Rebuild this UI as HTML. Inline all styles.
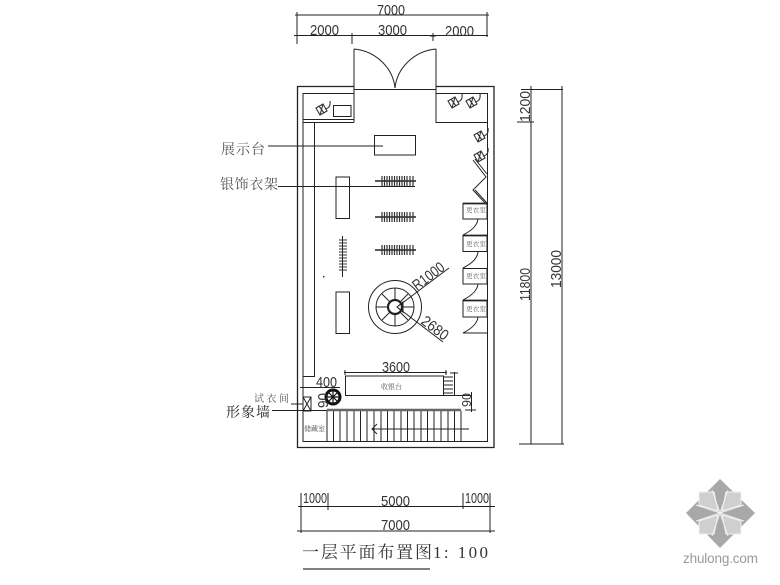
<!DOCTYPE html>
<html><head><meta charset="utf-8">
<style>
html,body{margin:0;padding:0;background:#fff}
svg{display:block}
text{font-family:"Liberation Sans","Noto Sans CJK SC",sans-serif;fill:#333}
.n{font-family:"Liberation Sans",sans-serif;font-size:15px;fill:#333}
.c{font-family:"Noto Serif CJK SC","Liberation Serif",serif;fill:#555}
</style></head><body>
<svg width="780" height="585" viewBox="0 0 780 585" xmlns="http://www.w3.org/2000/svg">
<defs>
<g id="chair" fill="none" stroke="#333" stroke-width="1.1">
<path d="M-6,-2 L1,-6 L5,1 L-2,5 Z M-3,-4 L2,3 M1,-6 L-2,5"/>
<path d="M3,-1 Q9,-2 8,-9"/>
</g>
<g id="rack">
<path d="M0,0 H41" stroke="#222" stroke-width="1.4"/>
<path d="M7,-5 V5 M9.500,-5 V5 M12,-5 V5 M14.500,-5 V5 M17,-5 V5 M19.500,-5 V5 M22,-5 V5 M24.500,-5 V5 M27,-5 V5 M29.500,-5 V5 M32,-5 V5 M35,-5 V5 M38,-5 V5" stroke="#333" stroke-width="1.200"/>
</g>
</defs>
<rect width="780" height="585" fill="#fff"/>
<g fill="none" stroke="#222" stroke-width="1">
<!-- top dims -->
<path d="M295,15 H489 M297,12 V44 M487,12 V37 M294,35.500 H488 M352,33 V44 M433,33 V41 M430,36 H436"/>
<!-- door -->
<path d="M354,49 V89 M436,49 V89 M354,89.500 H436"/>
<path d="M354,49 C376,51 393,68 395,88 M436,49 C414,51 397,68 395,88"/>
<!-- walls -->
<path d="M354,86.500 H297.500 V447.500 H494 V86.500 H436" stroke-width="1.300"/>
<path d="M354,93.500 H303 V441.500 H487.500 V93.500 H436"/>
<path d="M354,89 V122.500 M436,89 V122.500 H487.500"/>
<path d="M303,119.500 H354 M303,122.500 H354"/>
<path d="M314.500,122 V376.500 H303"/>
<rect x="333.500" y="105.500" width="17.500" height="11"/>
<rect x="374.500" y="135.500" width="41" height="19.500"/>
<path d="M268,146 H383 M278,186.500 H415"/>
<rect x="336" y="177" width="13.500" height="41.500"/>
<rect x="336" y="292" width="13.500" height="41.500"/>
<!-- fitting rooms -->
<rect x="463" y="203.500" width="24" height="15.500"/>
<rect x="463" y="235.500" width="24" height="16"/>
<rect x="463" y="268.500" width="24" height="15.500"/>
<rect x="463" y="300.500" width="24" height="16.500"/>
<path d="M463,203.500 H487 M463,235.500 H487 M463,300.500 H487" stroke-width="1.800"/>
<path d="M478,219 Q477,228 463,235 M478,252 Q477,261 463,268 M478,284 Q477,293 463,300 M478,317 Q477,326 463,333 H487"/>
<!-- zigzag -->
<path d="M473,160 L486,177 L473,190 L486,204 M475,159 L487,174 M475,190 L487,203"/>
<!-- round display -->
<circle cx="395" cy="307" r="26.500"/>
<circle cx="395" cy="307" r="19"/>
<circle cx="395" cy="307" r="7" stroke-width="2.200"/>
<path d="M395,288 V300 M395,314 V326 M376,307 H388 M402,307 H414 M382,294 L390,302 M400,312 L408,320 M408,294 L400,302 M382,320 L390,312"/>
<path d="M397,307 L449,268 M397,307 L443,342 M397,307 L403,302 L403,312 Z"/>
<!-- counter -->
<rect x="345.500" y="376" width="98" height="19.500"/>
<path d="M344,372.500 H447 M345,370 V375 M446,370 V375"/>
<path d="M443,377 H453 M443,381 H453 M443,385 H453 M443,389 H453 M443,393 H453 M454.500,372 V395 M450,373 H458 M443,395.500 H472 M471.500,392 V412 M465,410 H476"/>
<path d="M300,387.500 H340 M303,397 H311 V411 H303 Z M303,397 L311,411 M311,397 L303,411 M291,404 H303 M272,410.500 H327"/>
<!-- stairs -->
<path d="M327,410 V441 M333.500,411 V441 M340,411 V441 M347,411 V441 M354,411 V441 M360.500,411 V441 M367,411 V441 M374,411 V441 M381,411 V441 M387.500,411 V441 M394,411 V441 M401,411 V441 M407.500,411 V441 M414,411 V441 M421,411 V441 M427.500,411 V441 M434,411 V441 M441,411 V441 M448,411 V441 M454.500,411 V441 M461,411 V441"/>
<path d="M372,429 H469 M377,424 L372,429 L377,434"/>
<!-- right dims -->
<path d="M531,86 V444 M562,86 V444 M521,89.500 H563 M519,444 H564 M517,122 H534"/>
<!-- bottom dims -->
<path d="M298,506.500 H495 M297,531 H495 M301,493 V533 M328,493 V510 M463,493 V509 M490,493 V533"/>
<path d="M303,569 H430" stroke="#333" stroke-width="1.300"/>
</g>
<path d="M327,410 H461" stroke="#666" stroke-width="2.500"/>
<circle cx="333" cy="397" r="7" fill="#fff" stroke="#111" stroke-width="3"/>
<path d="M333,390 V404 M326,397 H340 M328,392 L338,402 M338,392 L328,402" stroke="#111" stroke-width="1.200"/>
<path d="M342.500,236 V277" stroke="#222"/>
<path d="M339,240 H347 M339,243 H347 M339,246 H347 M339,249 H347 M339,252 H347 M339,255 H347 M339,258 H347 M339,261 H347 M339,264 H347 M339,267 H347 M339,270 H347" stroke="#333" stroke-width="1.100"/>
<rect x="323" y="276" width="1.500" height="1.500" fill="#444"/>
<use href="#rack" x="375" y="181"/>
<use href="#rack" x="375" y="217"/>
<use href="#rack" x="375" y="250"/>
<use href="#chair" x="322" y="110"/>
<use href="#chair" x="454" y="103"/>
<use href="#chair" x="472" y="103"/>
<use href="#chair" x="480" y="137"/>
<use href="#chair" x="480" y="157"/>
<!-- text -->
<text class="n" x="377" y="15" textLength="28" lengthAdjust="spacingAndGlyphs">7000</text>
<text class="n" x="310" y="35" textLength="29" lengthAdjust="spacingAndGlyphs">2000</text>
<text class="n" x="378" y="35" textLength="29" lengthAdjust="spacingAndGlyphs">3000</text>
<text class="n" x="445" y="36" textLength="29" lengthAdjust="spacingAndGlyphs">2000</text>
<text class="n" x="382" y="372" textLength="28" lengthAdjust="spacingAndGlyphs">3600</text>
<text class="n" x="316" y="387" textLength="21" lengthAdjust="spacingAndGlyphs">400</text>
<text class="n" x="303" y="503" textLength="24" lengthAdjust="spacingAndGlyphs">1000</text>
<text class="n" x="381" y="506" textLength="29" lengthAdjust="spacingAndGlyphs">5000</text>
<text class="n" x="465" y="503" textLength="24" lengthAdjust="spacingAndGlyphs">1000</text>
<text class="n" x="381" y="530" textLength="29" lengthAdjust="spacingAndGlyphs">7000</text>
<text class="n" transform="translate(530,122) rotate(-90)" textLength="31" lengthAdjust="spacingAndGlyphs">1200</text>
<text class="n" transform="translate(530,301) rotate(-90)" textLength="33" lengthAdjust="spacingAndGlyphs">11800</text>
<text class="n" transform="translate(561,288) rotate(-90)" textLength="38" lengthAdjust="spacingAndGlyphs">13000</text>
<text class="n" transform="translate(417,291) rotate(-37)" textLength="36" lengthAdjust="spacingAndGlyphs">R1000</text>
<text class="n" transform="translate(420,323) rotate(37)" textLength="30" lengthAdjust="spacingAndGlyphs">2680</text>
<text class="n" transform="translate(328,408) rotate(-90)" textLength="15" lengthAdjust="spacingAndGlyphs">90</text>
<text class="n" transform="translate(471,407) rotate(-90)" textLength="14" lengthAdjust="spacingAndGlyphs" style="font-size:13px">90</text>
<text class="c" x="221" y="154" font-size="14" textLength="44">展示台</text>
<text class="c" x="220" y="189" font-size="14" textLength="58">银饰衣架</text>
<text class="c" x="254" y="402" font-size="10" textLength="35">试衣间</text>
<text class="c" x="226" y="417" font-size="14" textLength="44" style="fill:#222">形象墙</text>
<text class="c" x="381" y="389" font-size="7" textLength="21">收银台</text>
<text class="c" x="304" y="431" font-size="7" textLength="21">储藏室</text>
<text class="c" x="466" y="212" font-size="6.500" textLength="20">更衣室</text>
<text class="c" x="466" y="246" font-size="6.500" textLength="20">更衣室</text>
<text class="c" x="466" y="278" font-size="6.500" textLength="20">更衣室</text>
<text class="c" x="466" y="311" font-size="6.500" textLength="20">更衣室</text>
<text class="c" x="302" y="558" font-size="17" textLength="130" style="fill:#333">一层平面布置图</text>
<text x="433" y="558" font-size="17" textLength="55" style="font-family:'Liberation Serif',serif;fill:#333">1: 100</text>
<!-- watermark -->
<g>
<path d="M720,479 L755,513 L720,548 L686,513 Z" fill="#a8a8a8"/>
<path d="M699,492 H714 L718,511 L699,505 Z M741,492 H726 L722,511 L741,505 Z M699,534 H714 L718,515 L699,521 Z M741,534 H726 L722,515 L741,521 Z" fill="#cfcfcf" stroke="#f2f2f2" stroke-width="1"/>
<path d="M712,490 L720,513 L728,490 M696,505 L720,513 L744,505 M696,521 L720,513 L744,521 M712,536 L720,513 L728,536" fill="none" stroke="#f0f0f0" stroke-width="1"/>
</g>
<text x="683" y="563" font-size="13.500" textLength="75" style="fill:#9a9a9a">zhulong.com</text>
</svg>
</body></html>
